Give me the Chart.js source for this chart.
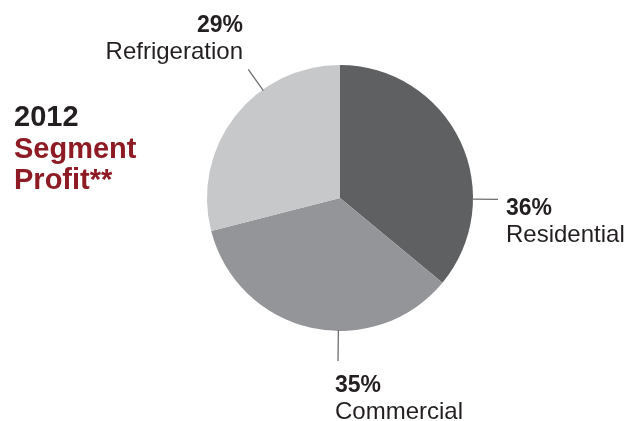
<!DOCTYPE html>
<html>
<head>
<meta charset="utf-8">
<script src="https://cdn.jsdelivr.net/npm/chart.js@4"></script>
<style>
  html, body { margin: 0; padding: 0; background: #fff; }
  #wrap { position: relative; width: 633px; height: 421px; }
  #title { position: absolute; left: 14px; top: 101px; font-family: "Liberation Sans", Arial, sans-serif;
           font-weight: bold; font-size: 29px; line-height: 31.5px; }
  #title .y { color: #231f20; }
  #title .r { color: #8e1b24; }
</style>
</head>
<body>
<div id="wrap">
  <canvas id="myChart" width="633" height="421"></canvas>
  <div id="title"><div class="y">2012</div><div class="r">Segment</div><div class="r">Profit**</div></div>
</div>
<script>
const categories = ["Residential", "Commercial", "Refrigeration"];
const shares = [36, 35, 29];
const colors = ["#5f6062", "#939598", "#c7c8ca"];

// where each leader line leaves the pie (degrees, 0 = 3 o'clock, clockwise) and label placement
const callouts = [
    { angle: 0.5, len: 25, dx: 166, dy: 17, align: "left" },
    { angle: 90.7, len: 30, dx: -5, dy: 194, align: "left" },
    { angle: 234.5, len: 25, dx: -97, dy: -166, align: "right" },
];

const calloutPlugin = {
    id: "callouts",
    afterDatasetsDraw(chart) {
        const ctx = chart.ctx;
        const arcs = chart.getDatasetMeta(0).data;
        arcs.forEach((arc, i) => {
            const c = callouts[i];
            const a = c.angle * Math.PI / 180;
            const r = arc.outerRadius;
            ctx.save();
            ctx.strokeStyle = "#6d6e70";
            ctx.lineWidth = 1.3;
            ctx.beginPath();
            ctx.moveTo(arc.x + Math.cos(a) * (r - 1), arc.y + Math.sin(a) * (r - 1));
            ctx.lineTo(arc.x + Math.cos(a) * (r + c.len), arc.y + Math.sin(a) * (r + c.len));
            ctx.stroke();
            ctx.fillStyle = "#231f20";
            ctx.textAlign = c.align;
            ctx.textBaseline = "alphabetic";
            const tx = arc.x + c.dx, ty = arc.y + c.dy;
            ctx.font = "bold 23px 'Liberation Sans', Arial, sans-serif";
            ctx.fillText(shares[i] + "%", tx, ty);
            ctx.font = "24px 'Liberation Sans', Arial, sans-serif";
            ctx.fillText(categories[i], tx, ty + 27);
            ctx.restore();
        });
    }
};

window.onload = function() {
    const ctx = document.getElementById("myChart").getContext("2d");
    new Chart(ctx, {
        type: "pie",
        data: {
            labels: categories,
            datasets: [
                {
                    data: shares,
                    backgroundColor: colors,
                    borderWidth: 0,
                },
            ],
        },
        options: {
            responsive: false,
            animation: false,
            layout: { padding: { left: 190, right: 143, top: 65, bottom: 90 } },
            plugins: {
                legend: { display: false },
                tooltip: { enabled: false },
            },
        },
        plugins: [calloutPlugin],
    });
}
</script>
</body>
</html>
